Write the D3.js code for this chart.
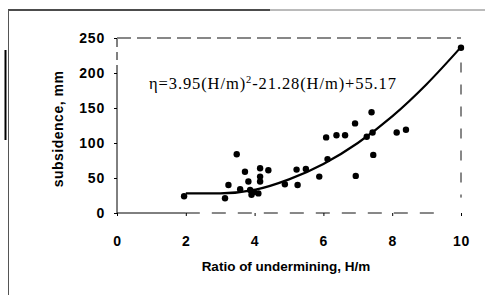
<!DOCTYPE html>
<html lang="en">
<head>
<meta charset="utf-8">
<title>subsidence</title>
<script src="https://cdn.jsdelivr.net/npm/d3@7"></script>
<style type="text/css">
body { margin: 0; background: #fff; }
.axis text {
  font-family: "Liberation Sans", Arial, sans-serif;
  font-weight: bold;
  font-size: 14px;
  letter-spacing: 0.8px;
  fill: #000;
}
.axis line { stroke: #000; stroke-width: 1px; }
.axis path { display: none; }
</style>
</head>
<body>
<script type="text/javascript">
var w = 485;
var h = 295;

// measured points (H/m, subsidence mm)
var ratio = [1.95, 3.14, 3.24, 3.48, 3.58, 3.72, 3.82, 3.87, 3.91, 3.98, 4.11, 4.16, 4.16, 4.16, 4.40,
             4.88, 5.22, 5.25, 5.49, 5.88, 6.08, 6.12, 6.38, 6.63, 6.92, 6.94, 7.26, 7.40, 7.43, 7.45,
             8.13, 8.40, 10.0];
var subsidence = [24, 21, 40, 84, 34, 59, 45, 33, 26, 30, 28, 64, 52, 45, 61,
                  41, 62, 40, 63, 52, 108, 77, 111, 111, 128, 53, 109, 144, 115, 83,
                  115, 119, 236];

// fitted curve
var fitX = [2, 3, 4, 5, 6, 7, 8, 9, 10];
var fitY = [28, 28, 33, 48, 70, 100, 138, 184, 237];

var xTicks = [0, 2, 4, 6, 8, 10];
var yTicks = [0, 50, 100, 150, 200, 250];

var xScale = d3.scaleLinear().domain([0, 10]).range([117, 461]);
var yScale = d3.scaleLinear().domain([0, 250]).range([213, 38]);

var svg = d3.select("body").append("svg")
            .attr("width", w)
            .attr("height", h);

// scan frame
svg.append("line").attr("x1", 8).attr("y1", 10).attr("x2", 270).attr("y2", 10)
   .attr("stroke", "#111").attr("stroke-width", 1.5);
svg.append("line").attr("x1", 270).attr("y1", 10).attr("x2", 485).attr("y2", 10)
   .attr("stroke", "#777").attr("stroke-width", 1);
svg.append("line").attr("x1", 8.5).attr("y1", 10).attr("x2", 8.5).attr("y2", 295)
   .attr("stroke", "#555").attr("stroke-width", 1);
svg.append("line").attr("x1", 5.5).attr("y1", 50).attr("x2", 5.5).attr("y2", 140)
   .attr("stroke", "#000").attr("stroke-width", 2);

// plot box (dashed top / right, partly dashed bottom)
svg.append("line")
   .attr("x1", xScale(0)).attr("y1", yScale(250)).attr("x2", xScale(10)).attr("y2", yScale(250))
   .attr("stroke", "#111").attr("stroke-width", 1.2).attr("stroke-dasharray", "14,6");
svg.append("line")
   .attr("x1", xScale(10)).attr("y1", yScale(215)).attr("x2", xScale(10)).attr("y2", yScale(22))
   .attr("stroke", "#111").attr("stroke-width", 1).attr("stroke-dasharray", "10,12");
svg.append("line")
   .attr("x1", xScale(0)).attr("y1", yScale(0)).attr("x2", xScale(2)).attr("y2", yScale(0))
   .attr("stroke", "#000").attr("stroke-width", 1);
svg.append("line")
   .attr("x1", xScale(2)).attr("y1", yScale(0)).attr("x2", xScale(9.5)).attr("y2", yScale(0))
   .attr("stroke", "#111").attr("stroke-width", 1).attr("stroke-dasharray", "14,12");
svg.append("line")
   .attr("x1", xScale(0)).attr("y1", yScale(0)).attr("x2", xScale(0)).attr("y2", yScale(200))
   .attr("stroke", "#000").attr("stroke-width", 1);
svg.append("line")
   .attr("x1", xScale(0)).attr("y1", yScale(200)).attr("x2", xScale(0)).attr("y2", yScale(250))
   .attr("stroke", "#000").attr("stroke-width", 1).attr("stroke-dasharray", "8,5");

// axes
var xAxis = d3.axisBottom(xScale).tickValues(xTicks).tickSize(3).tickPadding(20)
              .tickFormat(d3.format("d"));
var yAxis = d3.axisLeft(yScale).tickValues(yTicks).tickSize(3).tickPadding(9)
              .tickFormat(d3.format("d"));

svg.append("g").attr("class", "axis")
   .attr("transform", "translate(0," + yScale(0) + ")")
   .call(xAxis);
svg.append("g").attr("class", "axis")
   .attr("transform", "translate(" + xScale(0) + ",0)")
   .call(yAxis);

// axis titles
svg.append("text")
   .attr("x", 286).attr("y", 271)
   .attr("text-anchor", "middle")
   .attr("font-family", "Liberation Sans, Arial, sans-serif")
   .attr("font-weight", "bold")
   .attr("font-size", "13.5px")
   .text("Ratio of undermining, H/m");
svg.append("text")
   .attr("transform", "translate(63,129) rotate(-90)")
   .attr("text-anchor", "middle")
   .attr("font-family", "Liberation Sans, Arial, sans-serif")
   .attr("font-weight", "bold")
   .attr("font-size", "14px")
   .attr("letter-spacing", "0.5px")
   .text("subsidence, mm");

// fitted curve
var line = d3.line()
             .x(function(d, i) { return xScale(fitX[i]); })
             .y(function(d) { return yScale(d); })
             .curve(d3.curveMonotoneX);
svg.append("path")
   .datum(fitY)
   .attr("d", line)
   .attr("fill", "none")
   .attr("stroke", "#000")
   .attr("stroke-width", 2.2);

// points
svg.selectAll("circle")
   .data(subsidence)
   .enter()
   .append("circle")
   .attr("cx", function(d, i) { return xScale(ratio[i]); })
   .attr("cy", function(d) { return yScale(d); })
   .attr("r", 3.2)
   .attr("fill", "#000");

// equation
var eq = svg.append("text")
            .attr("x", 149).attr("y", 89)
            .attr("font-family", "Liberation Serif, Times New Roman, serif")
            .attr("font-size", "16.5px")
            .attr("letter-spacing", "0.9px");
eq.append("tspan").text("η=3.95(H/m)");
eq.append("tspan").attr("dy", -6).attr("font-size", "10.5px").text("2");
eq.append("tspan").attr("dy", 6).text("-21.28(H/m)+55.17");
</script>
</body>
</html>
